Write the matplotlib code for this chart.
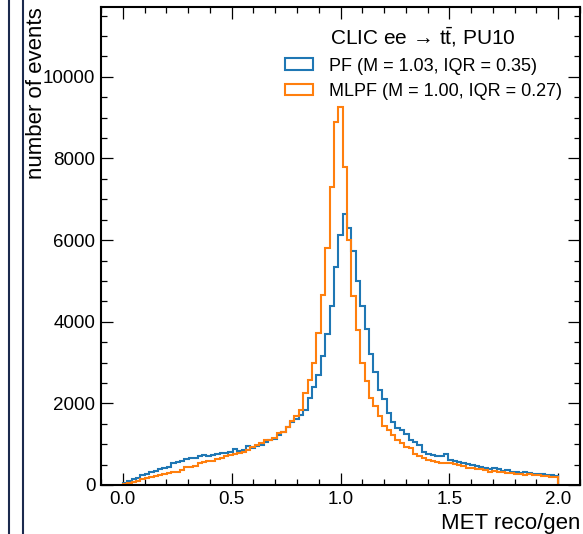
#!/usr/bin/env python3
"""MET response histogram, PF vs MLPF (CLIC ee -> ttbar, PU10)."""

from __future__ import annotations

import matplotlib

matplotlib.use("Agg")
import matplotlib.pyplot as plt
import numpy as np
from matplotlib.lines import Line2D
from matplotlib.ticker import MultipleLocator

# 99 bins, np.linspace(0, 2, 100)
BIN_LOW = 0.0
BIN_HIGH = 2.0
N_EDGES = 100

PF_COUNTS = [
    40, 100, 140, 180, 245, 270, 310, 350, 385, 425,
    450, 545, 555, 595, 630, 655, 670, 710, 730, 710,
    745, 760, 775, 785, 800, 890, 830, 860, 960, 900,
    960, 985, 1060, 1100, 1120, 1230, 1310, 1430, 1550, 1620,
    1720, 1830, 2130, 2410, 2700, 3150, 3710, 4390, 5330, 6120,
    6630, 6300, 5730, 5010, 4380, 3820, 3220, 2780, 2320, 2100,
    1760, 1550, 1400, 1350, 1250, 1100, 1060, 980, 820, 760,
    740, 700, 710, 750, 610, 590, 560, 530, 515, 490,
    470, 435, 410, 395, 410, 385, 350, 370, 330, 310,
    300, 320, 285, 270, 270, 260, 245, 235, 220,
]

MLPF_COUNTS = [
    16, 57, 82, 106, 139, 164, 188, 221, 245, 270,
    286, 311, 327, 368, 434, 450, 466, 531, 556, 581,
    597, 630, 671, 712, 744, 770, 790, 820, 860, 940,
    990, 1040, 1100, 1110, 1150, 1280, 1310, 1430, 1570, 1700,
    1840, 2250, 2580, 2990, 3720, 4650, 5800, 7300, 8900, 9250,
    7800, 6010, 4640, 3800, 3000, 2540, 2130, 1930, 1680, 1450,
    1350, 1230, 1100, 1020, 940, 900, 770, 700, 655, 615,
    590, 575, 550, 530, 530, 505, 490, 465, 425, 410,
    400, 385, 370, 320, 350, 325, 310, 300, 285, 262,
    270, 245, 270, 237, 245, 220, 230, 205, 205,
]

LABELS = ["PF (M = 1.03, IQR = 0.35)", "MLPF (M = 1.00, IQR = 0.27)"]
COLORS = ["#1f77b4", "#ff7f0e"]
LEGEND_TITLE = "CLIC ee \u2192 t$\\bar{\\mathrm{t}}$, PU10"


def _configure_matplotlib() -> None:
    plt.rcParams.update(
        {
            "font.family": ["Liberation Sans", "DejaVu Sans"],
            "mathtext.fontset": "custom",
            "mathtext.rm": "Liberation Sans",
            "mathtext.it": "Liberation Sans:italic",
            "mathtext.bf": "Liberation Sans:bold",
            "axes.linewidth": 1.5,
        }
    )


def main() -> None:
    _configure_matplotlib()

    edges = np.linspace(BIN_LOW, BIN_HIGH, N_EDGES)
    left = edges[:-1]

    fig = plt.figure(figsize=(5.83, 5.34), dpi=100)
    ax = fig.add_axes([0.1732, 0.0918, 0.8217, 0.8942])

    for counts, label, color in zip([PF_COUNTS, MLPF_COUNTS], LABELS, COLORS):
        ax.hist(
            left,
            bins=edges,
            weights=counts,
            histtype="step",
            color=color,
            lw=1.5,
            label=label,
        )

    ax.set_xlim(-0.1, 2.1)
    ax.set_ylim(0, 11700)
    ax.xaxis.set_major_locator(MultipleLocator(0.5))
    ax.xaxis.set_minor_locator(MultipleLocator(0.1))
    ax.yaxis.set_major_locator(MultipleLocator(2000))
    ax.yaxis.set_minor_locator(MultipleLocator(500))
    ax.tick_params(which="both", direction="in", top=True, right=True, labelsize=13.5)
    ax.tick_params(which="major", length=8.4, width=0.9, pad=4)
    ax.tick_params(which="minor", length=4.3, width=0.9)

    ax.set_xlabel("MET reco/gen", fontsize=16, loc="right")
    ax.set_ylabel("number of events", fontsize=16, loc="top", labelpad=-3)

    leg = ax.legend(
        title=LEGEND_TITLE,
        loc="upper right",
        frameon=False,
        fontsize=13,
        title_fontsize=15,
        handlelength=1.55,
        handleheight=0.6,
        handletextpad=0.9,
        borderaxespad=0.6,
        labelspacing=0.45,
    )
    leg._legend_box.align = "center"

    # page-edge rules visible at the left of the original image
    for xpos in (9 / 583, 23 / 583):
        fig.add_artist(
            Line2D([xpos, xpos], [0, 1], transform=fig.transFigure,
                   color="#1b2a4e", lw=1.5)
        )

    fig.savefig("out.png", dpi=100)
    plt.close(fig)


if __name__ == "__main__":
    main()
